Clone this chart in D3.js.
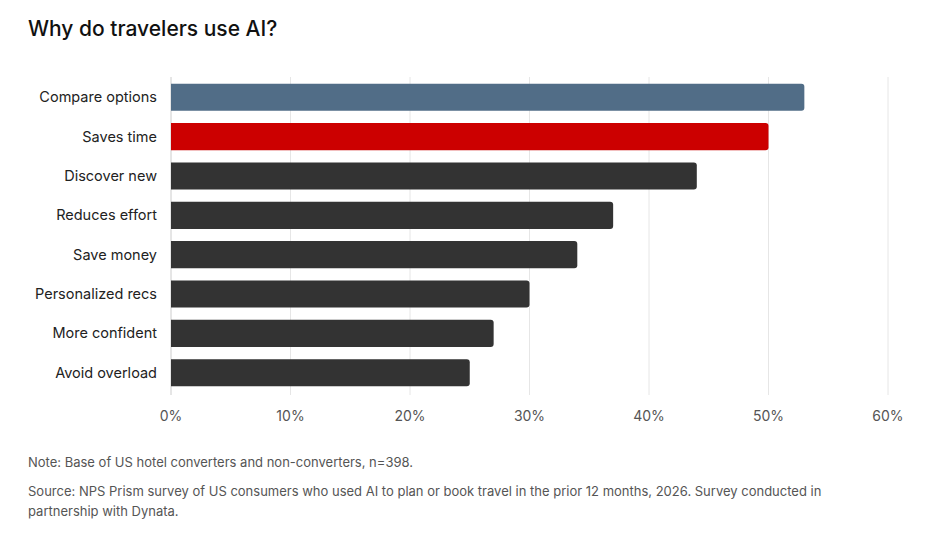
<!DOCTYPE html>
<html><head><meta charset="utf-8">
<script src="https://cdn.jsdelivr.net/npm/d3@7"></script>
<style>body{margin:0;background:#fff;font-family:"Inter","Roboto",sans-serif;}</style>
</head><body><svg id="c" width="936" height="535"></svg>
<script>
const categories=["Compare options","Saves time","Discover new","Reduces effort","Save money","Personalized recs","More confident","Avoid overload"];
const values=[53,50,44,37,34,30,27,25];
const colors=["#516d87","#cc0000","#333333","#333333","#333333","#333333","#333333","#333333"];
const ticks=[0,10,20,30,40,50,60];
const svg=d3.select("#c");
const x=d3.scaleLinear().domain([0,60]).range([171,888]);
const y=d3.scaleBand().domain(categories).range([77,393]).paddingInner(0.31).paddingOuter(0.17);
svg.append("text").attr("x",28).attr("y",36).attr("font-size",21).attr("font-weight",500).attr("fill","#111").text("Why do travelers use AI?");
svg.append("g").selectAll("line").data(ticks).join("line")
 .attr("x1",d=>x(d)).attr("x2",d=>x(d)).attr("y1",77).attr("y2",395)
 .attr("stroke",d=>d===0?"#ccc":"#e6e6e6");
svg.append("g").selectAll("text").data(ticks).join("text")
 .attr("x",d=>x(d)).attr("y",421).attr("text-anchor","middle").attr("font-size",14).attr("fill","#555").text(d=>d+"%");
svg.append("g").selectAll("path").data(values).join("path")
 .attr("fill",(d,i)=>colors[i])
 .attr("d",(d,i)=>{const x0=x(0),x1=x(d),y0=y(categories[i]),h=y.bandwidth(),r=3;
   return `M${x0},${y0}H${x1-r}Q${x1},${y0} ${x1},${y0+r}V${y0+h-r}Q${x1},${y0+h} ${x1-r},${y0+h}H${x0}Z`;});
svg.append("g").selectAll("text").data(categories).join("text")
 .attr("x",157).attr("y",d=>y(d)+y.bandwidth()/2+5).attr("text-anchor","end").attr("font-size",14.5).attr("fill","#222").text(d=>d);
svg.append("text").attr("x",28).attr("y",467).attr("font-size",13).attr("fill","#555").text("Note: Base of US hotel converters and non-converters, n=398.");
svg.append("text").attr("x",28).attr("y",496).attr("font-size",13).attr("fill","#555").text("Source: NPS Prism survey of US consumers who used AI to plan or book travel in the prior 12 months, 2026. Survey conducted in");
svg.append("text").attr("x",28).attr("y",516).attr("font-size",13).attr("fill","#555").text("partnership with Dynata.");
</script></body></html>
